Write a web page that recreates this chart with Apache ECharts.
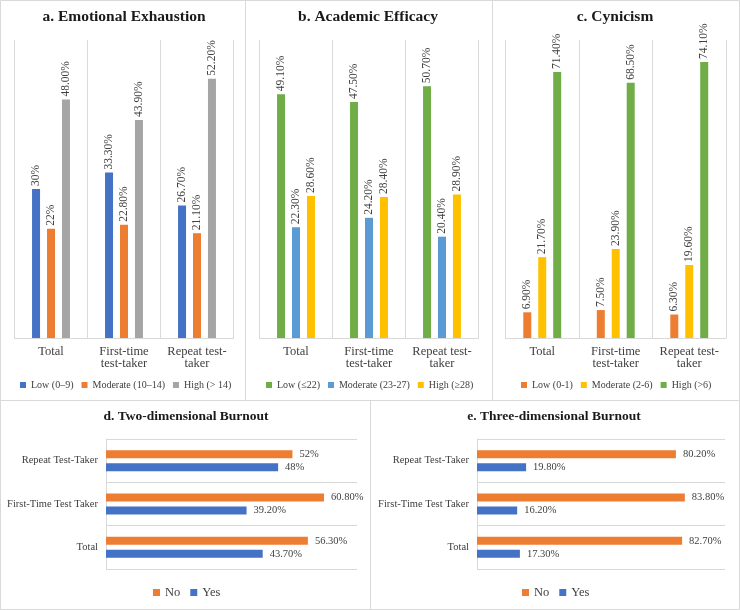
<!DOCTYPE html>
<html>
<head>
<meta charset="utf-8">
<script src="https://cdn.jsdelivr.net/npm/echarts@6/dist/echarts.min.js"></script>
<style>
html,body{margin:0;padding:0;background:#fff;}
#c{width:740px;height:610px;}
</style>
</head>
<body>
<div id="c"></div>
<script>
// ---- data ----
const verticalCategories = ['Total', 'First-time\ntest-taker', 'Repeat test-\ntaker'];
const horizontalCategories = ['Total', 'First-Time Test Taker', 'Repeat Test-Taker'];

const exhaustionLow = [30, 33.3, 26.7];
const exhaustionLowLabels = ['30%', '33.30%', '26.70%'];
const exhaustionModerate = [22, 22.8, 21.1];
const exhaustionModerateLabels = ['22%', '22.80%', '21.10%'];
const exhaustionHigh = [48, 43.9, 52.2];
const exhaustionHighLabels = ['48.00%', '43.90%', '52.20%'];

const efficacyLow = [49.1, 47.5, 50.7];
const efficacyLowLabels = ['49.10%', '47.50%', '50.70%'];
const efficacyModerate = [22.3, 24.2, 20.4];
const efficacyModerateLabels = ['22.30%', '24.20%', '20.40%'];
const efficacyHigh = [28.6, 28.4, 28.9];
const efficacyHighLabels = ['28.60%', '28.40%', '28.90%'];

const cynicismLow = [6.9, 7.5, 6.3];
const cynicismLowLabels = ['6.90%', '7.50%', '6.30%'];
const cynicismModerate = [21.7, 23.9, 19.6];
const cynicismModerateLabels = ['21.70%', '23.90%', '19.60%'];
const cynicismHigh = [71.4, 68.5, 74.1];
const cynicismHighLabels = ['71.40%', '68.50%', '74.10%'];

const twoDimNo = [56.3, 60.8, 52];
const twoDimNoLabels = ['56.30%', '60.80%', '52%'];
const twoDimYes = [43.7, 39.2, 48];
const twoDimYesLabels = ['43.70%', '39.20%', '48%'];

const threeDimNo = [82.7, 83.8, 80.2];
const threeDimNoLabels = ['82.70%', '83.80%', '80.20%'];
const threeDimYes = [17.3, 16.2, 19.8];
const threeDimYesLabels = ['17.30%', '16.20%', '19.80%'];

const legendExhaustion = ['Low (0–9)', 'Moderate (10–14)', 'High (> 14)'];
const legendEfficacy = ['Low (≤22)', 'Moderate (23-27)', 'High (≥28)'];
const legendCynicism = ['Low (0-1)', 'Moderate (2-6)', 'High (>6)'];

// ---- styles ----
const C = {blue:'#4472C4', orange:'#ED7D31', gray:'#A5A5A5', green:'#70AD47', lblue:'#5B9BD5', yellow:'#FFC000'};
const FONT = '"Liberation Serif", "Times New Roman", serif';
const GRID_COLOR = '#d9d9d9';

function vBar(name, values, labels, color, idx) {
  return {
    type: 'bar', name: name, data: values, xAxisIndex: idx, yAxisIndex: idx,
    barWidth: 8, barGap: '87%',
    itemStyle: {color: color},
    label: {
      show: true, position: 'top', rotate: 90, align: 'left', verticalAlign: 'middle',
      distance: 3, fontFamily: FONT, fontSize: 11.5, color: '#404040',
      formatter: p => labels[p.dataIndex]
    }
  };
}
function hBar(name, values, labels, color, idx) {
  return {
    type: 'bar', name: name, data: values, xAxisIndex: idx, yAxisIndex: idx,
    barWidth: 8, barGap: '62%',
    itemStyle: {color: color},
    label: {
      show: true, position: 'right', distance: 7,
      fontFamily: FONT, fontSize: 10.5, color: '#404040',
      formatter: p => labels[p.dataIndex]
    }
  };
}

const vGrids = [
  {left: 14.5, top: 40, width: 219, height: 298},
  {left: 259.5, top: 40, width: 219, height: 298},
  {left: 505.5, top: 40, width: 220.5, height: 298}
];
const hGrids = [
  {left: 106, top: 439, width: 251, height: 130},
  {left: 477, top: 439, width: 248, height: 130}
];
const vMax = [60, 60, 80];
const hMax = [70, 100];

const grids = vGrids.concat(hGrids).map(g => Object.assign({containLabel: false, outerBoundsMode: 'none'}, g));
const xAxes = [], yAxes = [];
vGrids.forEach((g, i) => {
  xAxes.push({
    type: 'category', gridIndex: i, data: verticalCategories,
    axisLine: {show: true, lineStyle: {color: GRID_COLOR}},
    axisTick: {show: false},
    splitLine: {show: true, lineStyle: {color: GRID_COLOR}},
    axisLabel: {interval: 0, margin: 8, fontFamily: FONT, fontSize: 12.5, lineHeight: 11.5, color: '#404040'}
  });
  yAxes.push({
    type: 'value', gridIndex: i, min: 0, max: vMax[i],
    axisLine: {show: false}, axisTick: {show: false}, axisLabel: {show: false}, splitLine: {show: false}
  });
});
hGrids.forEach((g, j) => {
  const i = j + 3;
  xAxes.push({
    type: 'value', gridIndex: i, min: 0, max: hMax[j],
    axisLine: {show: false}, axisTick: {show: false}, axisLabel: {show: false}, splitLine: {show: false}
  });
  yAxes.push({
    type: 'category', gridIndex: i, data: horizontalCategories,
    axisLine: {show: true, lineStyle: {color: GRID_COLOR}},
    axisTick: {show: false},
    splitLine: {show: true, lineStyle: {color: GRID_COLOR}},
    axisLabel: {interval: 0, margin: 8, fontFamily: FONT, fontSize: 10.5, color: '#404040'}
  });
});

const series = [
  vBar(legendExhaustion[0], exhaustionLow, exhaustionLowLabels, C.blue, 0),
  vBar(legendExhaustion[1], exhaustionModerate, exhaustionModerateLabels, C.orange, 0),
  vBar(legendExhaustion[2], exhaustionHigh, exhaustionHighLabels, C.gray, 0),
  vBar(legendEfficacy[0], efficacyLow, efficacyLowLabels, C.green, 1),
  vBar(legendEfficacy[1], efficacyModerate, efficacyModerateLabels, C.lblue, 1),
  vBar(legendEfficacy[2], efficacyHigh, efficacyHighLabels, C.yellow, 1),
  vBar(legendCynicism[0], cynicismLow, cynicismLowLabels, C.orange, 2),
  vBar(legendCynicism[1], cynicismModerate, cynicismModerateLabels, C.yellow, 2),
  vBar(legendCynicism[2], cynicismHigh, cynicismHighLabels, C.green, 2),
  hBar('No', twoDimNo, twoDimNoLabels, C.orange, 3),
  hBar('Yes', twoDimYes, twoDimYesLabels, C.blue, 3),
  hBar('No ', threeDimNo, threeDimNoLabels, C.orange, 4),
  hBar('Yes ', threeDimYes, threeDimYesLabels, C.blue, 4)
];

function legend(names, left, top, fontSize, size, gap) {
  return {
    data: names, left: left, top: top, padding: 0, itemGap: gap,
    itemWidth: size, itemHeight: size, icon: 'rect', selectedMode: false,
    textStyle: {fontFamily: FONT, fontSize: fontSize, color: '#404040'},
    formatter: n => n.trim()
  };
}

function title(text, x, y, size) {
  return {
    text: text, left: x, top: y, textAlign: 'center', padding: 0,
    textStyle: {fontFamily: FONT, fontSize: size, fontWeight: 'bold', color: '#1a1a1a'}
  };
}

function panel(x, y, w, h) {
  return {type: 'rect', silent: true, shape: {x: x + 0.5, y: y + 0.5, width: w - 1, height: h - 1},
    style: {fill: null, stroke: GRID_COLOR, lineWidth: 1}};
}

const option = {
  animation: false,
  backgroundColor: '#ffffff',
  title: [
    title('a. Emotional Exhaustion', 124, 9, 15.5),
    title('b. Academic Efficacy', 368, 9, 15.5),
    title('c. Cynicism', 615, 9, 15.5),
    title('d. Two-dimensional Burnout', 186, 410, 13.5),
    title('e. Three-dimensional Burnout', 554, 410, 13.5)
  ],
  legend: [
    legend(legendExhaustion, 20, 380, 10, 6, 8),
    legend(legendEfficacy, 266, 380, 10, 6, 8),
    legend(legendCynicism, 521, 380, 10, 6, 8),
    legend(['No', 'Yes'], 153, 586, 12.5, 7, 10),
    legend(['No ', 'Yes '], 522, 586, 12.5, 7, 10)
  ],
  grid: grids,
  xAxis: xAxes,
  yAxis: yAxes,
  series: series,
  graphic: [
    panel(0, 0, 246, 401),
    panel(245, 0, 248, 401),
    panel(492, 0, 248, 401),
    panel(0, 400, 371, 210),
    panel(370, 400, 370, 210)
  ]
};

const chart = echarts.init(document.getElementById('c'), null, {renderer: 'canvas'});
chart.setOption(option);
</script>
</body>
</html>
